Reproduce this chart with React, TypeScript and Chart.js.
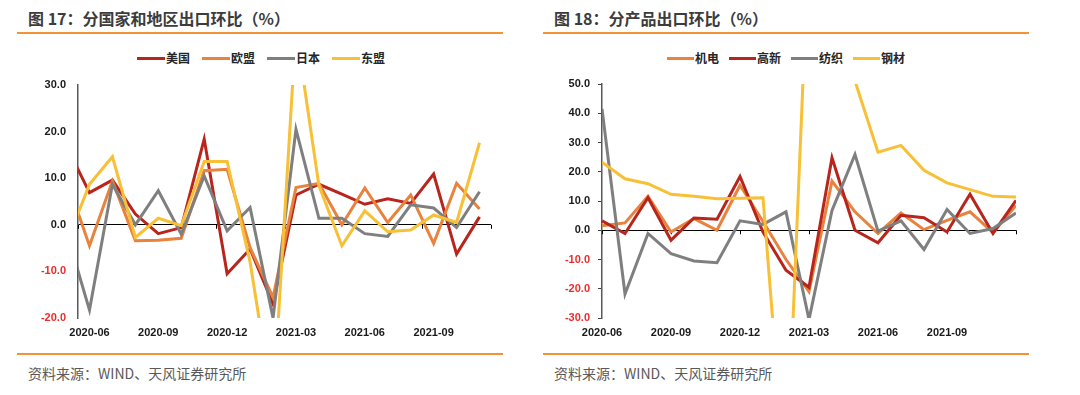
import React, { useEffect, useRef } from 'react';
import { Chart, registerables } from 'chart.js';

Chart.register(...registerables);

// ---------- Left chart: 分国家和地区出口环比 ----------
const leftMonths = [
  '2020-05', '2020-06', '2020-07', '2020-08', '2020-09', '2020-10', '2020-11', '2020-12',
  '2021-01', '2021-02', '2021-03', '2021-04', '2021-05', '2021-06', '2021-07', '2021-08',
  '2021-09', '2021-10', '2021-11',
];
const leftTickMonths = ['2020-06', '2020-09', '2020-12', '2021-03', '2021-06', '2021-09'];
const usValues = [16.9, 6.9, 9.6, 2.3, -1.9, -0.6, 18.4, -10.5, -5.2, -17.0, 6.4, 8.7, 6.6, 4.4, 5.6, 4.6, 10.9, -6.3, 1.7];
const euValues = [9.7, -4.5, 9.4, -3.4, -3.3, -2.9, 11.6, 11.9, -4.9, -15.6, 8.0, 8.9, 0.0, 7.9, 0.5, 6.4, -4.0, 8.9, 3.4];
const jpValues = [-1.5, -18.3, 8.7, 0.0, 7.3, -2.0, 10.5, -1.3, 3.7, -20.0, 20.5, 1.4, 1.4, -1.9, -2.5, 4.3, 3.6, -0.6, 7.1];
const aseanValues = [-3.9, 8.7, 14.6, -2.7, 1.4, -0.2, 13.6, 13.6, -8.0, -39.0, 42.0, 8.4, -4.5, 3.0, -1.5, -1.1, 2.1, 0.5, 17.6];

// ---------- Right chart: 分产品出口环比 ----------
const rightMonths = [
  '2020-06', '2020-07', '2020-08', '2020-09', '2020-10', '2020-11', '2020-12',
  '2021-01', '2021-02', '2021-03', '2021-04', '2021-05', '2021-06', '2021-07', '2021-08',
  '2021-09', '2021-10', '2021-11', '2021-12',
];
const rightTickMonths = ['2020-06', '2020-09', '2020-12', '2021-03', '2021-06', '2021-09'];
const mechValues = [1.5, 2.5, 11.6, -0.6, 4.0, 0.0, 15.4, 3.0, -10.0, -21.0, 16.8, 6.3, -1.1, 5.9, 0.2, 3.4, 6.3, -0.8, 8.5];
const hiTechValues = [3.2, -1.1, 11.1, -3.4, 4.2, 3.8, 18.4, -0.6, -13.7, -19.5, 24.8, 0.0, -4.3, 5.1, 4.3, -0.6, 12.3, -1.1, 10.2];
const textileValues = [41.5, -21.8, -1.1, -8.0, -10.5, -11.1, 3.2, 2.0, 6.3, -30.5, 6.8, 25.9, -0.3, 3.2, -6.6, 7.1, -1.1, 0.6, 5.9];
const steelValues = [23.3, 17.6, 15.9, 12.3, 11.6, 10.8, 10.9, 11.1, -88.0, 100.0, 75.0, 51.0, 26.7, 29.0, 20.5, 16.2, 13.9, 11.6, 11.4];

const RED = '#B8251D';
const ORANGE = '#E8823C';
const GRAY = '#7F7F7F';
const YELLOW = '#F7C036';

type Series = { label: string; values: number[]; color: string };

const leftSeries: Series[] = [
  { label: '美国', values: usValues, color: RED },
  { label: '欧盟', values: euValues, color: ORANGE },
  { label: '日本', values: jpValues, color: GRAY },
  { label: '东盟', values: aseanValues, color: YELLOW },
];
const rightSeries: Series[] = [
  { label: '机电', values: mechValues, color: ORANGE },
  { label: '高新', values: hiTechValues, color: RED },
  { label: '纺织', values: textileValues, color: GRAY },
  { label: '钢材', values: steelValues, color: YELLOW },
];

const zeroTicksPlugin = {
  id: 'zeroTicks',
  beforeDatasetsDraw(chart: any, _args: any, opts: any) {
    const { ctx, scales } = chart;
    const x = scales.x;
    const y = scales.y;
    const y0 = y.getPixelForValue(0);
    ctx.save();
    ctx.strokeStyle = '#000';
    ctx.lineWidth = 1;
    for (let v = opts.start; v <= x.max + 1e-9; v += opts.step) {
      const px = Math.round(x.getPixelForValue(v)) + 0.5;
      ctx.beginPath();
      ctx.moveTo(px, y0);
      ctx.lineTo(px, y0 + 4);
      ctx.stroke();
    }
    ctx.restore();
  },
};

const axisFont = { family: '"Liberation Sans", Arial, sans-serif', size: 11, weight: 'bold' as const };

type ChartProps = {
  months: string[];
  tickMonths: string[];
  series: Series[];
  yMin: number;
  yMax: number;
  xMin: number;
  xMax: number;
  axisWidth: number;
  padTop: number;
  padRight: number;
  yTickColor: string;
  tickStart: number;
  width: number;
  height: number;
};

function LineChart(p: ChartProps) {
  const ref = useRef<HTMLCanvasElement | null>(null);
  useEffect(() => {
    if (!ref.current) return;
    const n = p.series.length;
    const chart = new Chart(ref.current, {
      type: 'line',
      data: {
        datasets: p.series.map((s, i) => ({
          label: s.label,
          data: s.values.map((v, j) => ({ x: j, y: v })),
          borderColor: s.color,
          backgroundColor: s.color,
          borderWidth: 3,
          pointRadius: 0,
          tension: 0,
          fill: false,
          clip: 0,
          order: n - 1 - i,
        })),
      },
      options: {
        animation: false,
        responsive: false,
        maintainAspectRatio: false,
        layout: { padding: { top: p.padTop, right: p.padRight, left: 0, bottom: 0 } },
        plugins: {
          legend: { display: false },
          tooltip: { enabled: false },
          zeroTicks: { start: p.tickStart, step: 3 },
        } as any,
        scales: {
          x: {
            type: 'linear',
            min: p.xMin,
            max: p.xMax,
            grid: { display: false, drawTicks: false },
            border: { display: false },
            afterBuildTicks: (scale: any) => {
              scale.ticks = p.tickMonths.map((m) => ({ value: p.months.indexOf(m) }));
            },
            afterFit: (scale: any) => {
              scale.height = 27;
            },
            ticks: {
              autoSkip: false,
              maxRotation: 0,
              minRotation: 0,
              padding: 8,
              color: '#1a1a1a',
              font: axisFont,
              callback: (v: any) => p.months[Number(v)] ?? '',
            },
          },
          y: {
            min: p.yMin,
            max: p.yMax,
            afterFit: (scale: any) => {
              scale.width = p.axisWidth;
            },
            ticks: {
              stepSize: 10,
              padding: 8,
              font: axisFont,
              color: (ctx: any) => (ctx.tick && ctx.tick.value < 0 ? '#EE2B2B' : '#1a1a1a'),
              callback: (v: any) => Number(v).toFixed(1),
            },
            grid: {
              color: (ctx: any) => (ctx.tick && ctx.tick.value === 0 ? '#000000' : 'rgba(0,0,0,0)'),
              tickColor: p.yTickColor,
              tickLength: 4,
              lineWidth: 1,
            },
            border: { color: '#595959', width: 1.5 },
          },
        },
      } as any,
      plugins: [zeroTicksPlugin],
    });
    return () => chart.destroy();
  }, []);
  return <canvas ref={ref} width={p.width} height={p.height} style={{ width: p.width, height: p.height, display: 'block' }} />;
}

function Legend({ series, lineWidth, gap }: { series: Series[]; lineWidth: number; gap: number }) {
  return (
    <div style={{ display: 'flex', alignItems: 'center' }}>
      {series.map((s) => (
        <div key={s.label} style={{ display: 'flex', alignItems: 'center', marginRight: gap }}>
          <div style={{ width: lineWidth, height: 3, background: s.color, marginRight: 1 }} />
          <span style={{ fontSize: 12, fontWeight: 'bold', color: '#262626', lineHeight: '16px' }}>{s.label}</span>
        </div>
      ))}
    </div>
  );
}

const cjk = '"Noto Sans CJK SC", "Noto Sans", sans-serif';

function Panel(props: {
  left: number;
  title: string;
  series: Series[];
  legendLeft: number;
  legendLine: number;
  legendGap: number;
  chart: ChartProps;
}) {
  const { left } = props;
  return (
    <>
      <div style={{ position: 'absolute', left: left + 11, top: 8, fontFamily: cjk, fontSize: 16, fontWeight: 'bold', color: '#3c3c3c', lineHeight: '20px', whiteSpace: 'nowrap' }}>
        {props.title}
      </div>
      <div style={{ position: 'absolute', left, top: 32, width: 486, height: 2, background: '#F39237' }} />
      <div style={{ position: 'absolute', left: props.legendLeft, top: 50, fontFamily: cjk }}>
        <Legend series={props.series} lineWidth={props.legendLine} gap={props.legendGap} />
      </div>
      <div style={{ position: 'absolute', left, top: 40 }}>
        <LineChart {...props.chart} />
      </div>
      <div style={{ position: 'absolute', left, top: 353, width: 486, height: 2, background: '#F39237' }} />
      <div style={{ position: 'absolute', left: left + 11, top: 363, fontFamily: cjk, fontSize: 14, color: '#595959', lineHeight: '20px', whiteSpace: 'nowrap' }}>
        资料来源：WIND、天风证券研究所
      </div>
    </>
  );
}

export default function App() {
  return (
    <div style={{ position: 'absolute', left: 0, top: 0, width: 1080, height: 395, background: '#ffffff', overflow: 'hidden' }}>
      <Panel
        left={17}
        title="图 17：分国家和地区出口环比（%）"
        series={leftSeries}
        legendLeft={137}
        legendLine={28}
        legendGap={12}
        chart={{
          months: leftMonths,
          tickMonths: leftTickMonths,
          series: leftSeries,
          yMin: -20,
          yMax: 30,
          xMin: 0.5,
          xMax: 18.5,
          axisWidth: 61,
          padTop: 45,
          padRight: 12,
          yTickColor: 'rgba(0,0,0,0)',
          tickStart: 0.5,
          width: 486,
          height: 305,
        }}
      />
      <Panel
        left={543}
        title="图 18：分产品出口环比（%）"
        series={rightSeries}
        legendLeft={667}
        legendLine={27}
        legendGap={10}
        chart={{
          months: rightMonths,
          tickMonths: rightTickMonths,
          series: rightSeries,
          yMin: -30,
          yMax: 50,
          xMin: 0,
          xMax: 18,
          axisWidth: 59,
          padTop: 44,
          padRight: 13,
          yTickColor: '#404040',
          tickStart: 0,
          width: 486,
          height: 305,
        }}
      />
    </div>
  );
}
